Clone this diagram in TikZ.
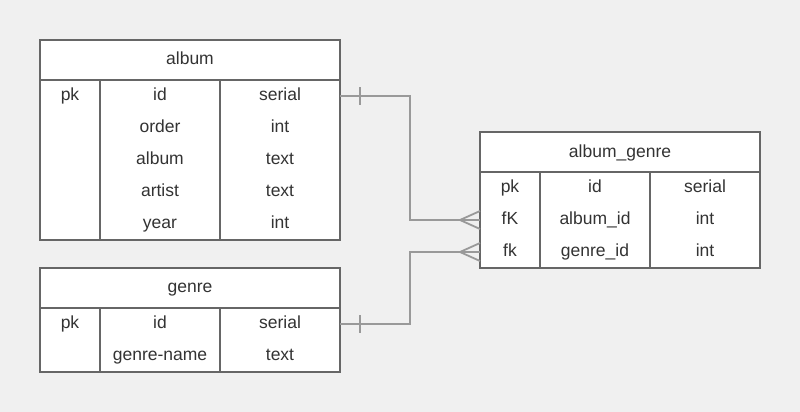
\documentclass[tikz,border=0pt]{standalone}
\usepackage{fontspec}
\setmainfont{Liberation Sans}
\definecolor{fond}{HTML}{F0F0F0}
\definecolor{bord}{HTML}{666666}
\definecolor{trait}{HTML}{999999}
\definecolor{texte}{HTML}{333333}
\begin{document}
\begin{tikzpicture}[
    x=1pt, y=-1pt,
    % Réglages des tables et des liens
    table/.style={draw=bord, fill=white, line width=2pt, inner sep=0pt, outer sep=0pt},
    sep/.style={draw=bord, line width=2pt},
    cell/.style={anchor=base, inner sep=0pt, text=texte, font=\fontsize{17.5}{20}\selectfont},
    lien/.style={draw=trait, line width=1.8pt}
]
\useasboundingbox[fill=fond] (0,0) rectangle (800,412);
% Tables
\node[table, minimum width=300pt, minimum height=200pt] (album) at (190,140) {};
\node[table, minimum width=300pt, minimum height=104pt] (genre) at (190,320) {};
\node[table, minimum width=280pt, minimum height=136pt] (albumgenre) at (620,200) {};
% Séparations
\draw[sep] ([yshift=-40pt]album.north west) -- ([yshift=-40pt]album.north east);
\draw[sep] ([xshift=60pt,yshift=-40pt]album.north west) -- ([xshift=60pt]album.south west);
\draw[sep] ([xshift=180pt,yshift=-40pt]album.north west) -- ([xshift=180pt]album.south west);
\draw[sep] ([yshift=-40pt]genre.north west) -- ([yshift=-40pt]genre.north east);
\draw[sep] ([xshift=60pt,yshift=-40pt]genre.north west) -- ([xshift=60pt]genre.south west);
\draw[sep] ([xshift=180pt,yshift=-40pt]genre.north west) -- ([xshift=180pt]genre.south west);
\draw[sep] ([yshift=-40pt]albumgenre.north west) -- ([yshift=-40pt]albumgenre.north east);
\draw[sep] ([xshift=60pt,yshift=-40pt]albumgenre.north west) -- ([xshift=60pt]albumgenre.south west);
\draw[sep] ([xshift=170pt,yshift=-40pt]albumgenre.north west) -- ([xshift=170pt]albumgenre.south west);
% Textes : album
\node[cell] (album-t) at (190,64) {album};
\node[cell] (album-pk) at (70,100) {pk};
\node[cell] (album-id) at (160,100) {id};
\node[cell] (album-idt) at (280,100) {serial};
\node[cell] (album-order) at (160,132) {order};
\node[cell] (album-ordert) at (280,132) {int};
\node[cell] (album-album) at (160,164) {album};
\node[cell] (album-albumt) at (280,164) {text};
\node[cell] (album-artist) at (160,196) {artist};
\node[cell] (album-artistt) at (280,196) {text};
\node[cell] (album-year) at (160,228) {year};
\node[cell] (album-yeart) at (280,228) {int};
% Textes : genre
\node[cell] (genre-t) at (190,292) {genre};
\node[cell] (genre-pk) at (70,328) {pk};
\node[cell] (genre-id) at (160,328) {id};
\node[cell] (genre-idt) at (280,328) {serial};
\node[cell] (genre-name) at (160,360) {genre-name};
\node[cell] (genre-namet) at (280,360) {text};
% Textes : album_genre
\node[cell] (ag-t) at (620,157) {album\_genre};
\node[cell] (ag-pk) at (510,192) {pk};
\node[cell] (ag-id) at (595,192) {id};
\node[cell] (ag-idt) at (705,192) {serial};
\node[cell] (ag-fk1) at (510,224) {fK};
\node[cell] (ag-album) at (595,224) {album\_id};
\node[cell] (ag-albumt) at (705,224) {int};
\node[cell] (ag-fk2) at (510,256) {fk};
\node[cell] (ag-genre) at (595,256) {genre\_id};
\node[cell] (ag-genret) at (705,256) {int};
% Liens
\coordinate (a1) at ([yshift=-56pt]album.north east);
\coordinate (g1) at ([yshift=-56pt]genre.north east);
\coordinate (ag1) at ([yshift=-88pt]albumgenre.north west);
\coordinate (ag2) at ([yshift=-120pt]albumgenre.north west);
\draw[lien] (a1) -- ++(70,0) |- (ag1);
\draw[lien] (g1) -- ++(70,0) |- (ag2);
% Cardinalités
\draw[lien] ([xshift=20pt,yshift=9pt]a1) -- ([xshift=20pt,yshift=-9pt]a1);
\draw[lien] ([xshift=20pt,yshift=9pt]g1) -- ([xshift=20pt,yshift=-9pt]g1);
\draw[lien] ([yshift=9pt]ag1) -- ([xshift=-20pt]ag1) -- ([yshift=-9pt]ag1);
\draw[lien] ([yshift=9pt]ag2) -- ([xshift=-20pt]ag2) -- ([yshift=-9pt]ag2);
\end{tikzpicture}
\end{document}
